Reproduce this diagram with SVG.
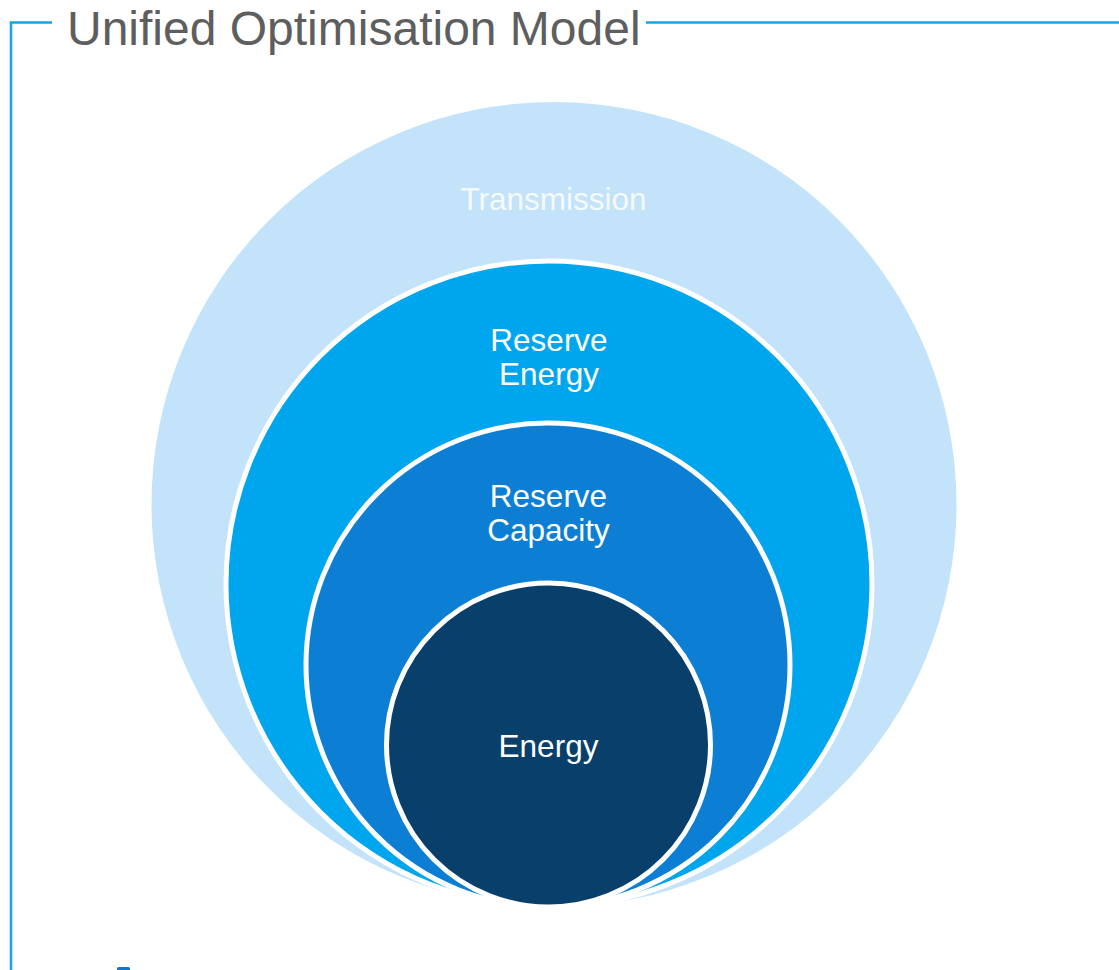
<svg xmlns="http://www.w3.org/2000/svg" width="1119" height="970" viewBox="0 0 1119 970">
  <style>
    .frame { fill: none; stroke: #12a6e8; stroke-width: 2.5; }
    .title { font-family: "Liberation Sans", Arial, sans-serif; font-size: 48px; fill: #5e5e5e; }
    .ring { stroke: #ffffff; stroke-width: 5; }
    .label { font-family: "Liberation Sans", Arial, sans-serif; font-size: 31.5px; fill: #ffffff; text-anchor: middle; }
  </style>
  <rect width="1119" height="970" fill="#ffffff"/>

  <!-- title frame -->
  <g id="frame">
    <polyline class="frame" points="52,22.5 11,22.5 11,970"/>
    <line class="frame" x1="646" y1="22.5" x2="1119" y2="22.5"/>
    <text class="title" x="67" y="45">Unified Optimisation Model</text>
    <rect x="117" y="967" width="13" height="5" rx="1.5" fill="#1277cc"/>
  </g>

  <!-- nested layers, all touching at the bottom -->
  <g id="transmission">
    <circle cx="554" cy="504.5" r="402.5" fill="#c3e3fa"/>
    <text class="label" x="553.5" y="210" font-size="32" fill-opacity="0.85">Transmission</text>
  </g>
  <g id="reserve-energy">
    <circle class="ring" cx="549" cy="584" r="323" fill="#00a6ed"/>
    <text class="label" x="549" y="351">Reserve</text>
    <text class="label" x="549" y="385">Energy</text>
  </g>
  <g id="reserve-capacity">
    <circle class="ring" cx="548" cy="665" r="242" fill="#0c7fd5"/>
    <text class="label" x="548.5" y="507">Reserve</text>
    <text class="label" x="548.5" y="541">Capacity</text>
  </g>
  <g id="energy">
    <circle class="ring" cx="548.5" cy="745" r="162" fill="#083f6b"/>
    <text class="label" x="548.5" y="757">Energy</text>
  </g>
  <g id="connectors"/>
</svg>
